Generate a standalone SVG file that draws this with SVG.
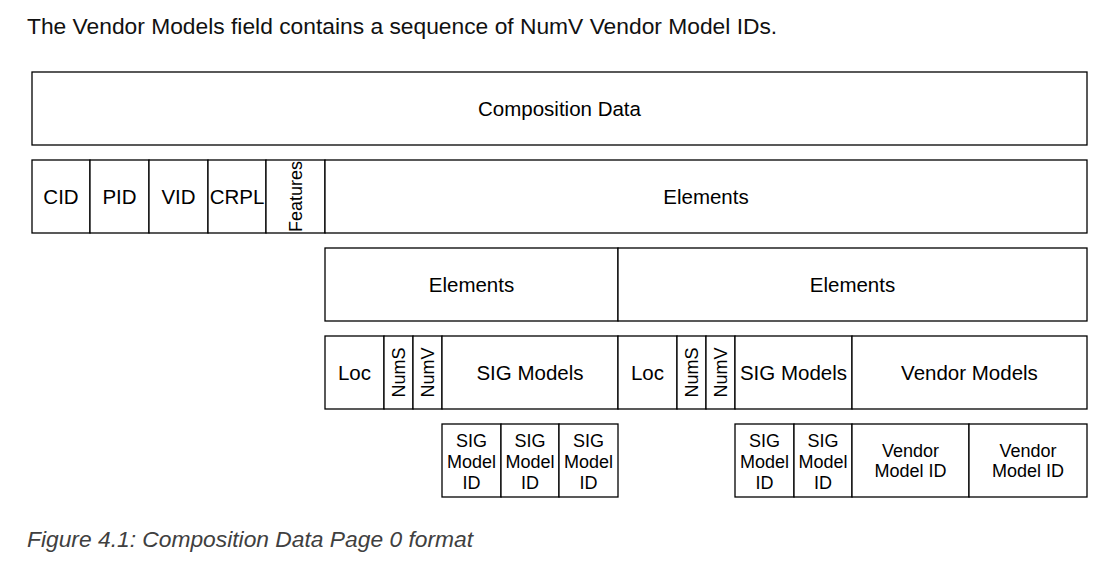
<svg xmlns="http://www.w3.org/2000/svg" width="1115" height="563" viewBox="0 0 1115 563">
<style>
.b{fill:#fff;stroke:#000;stroke-width:1.3}
.t{font-family:"Liberation Sans",Arial,sans-serif;font-size:20.5px;fill:#000;text-anchor:middle}
.r{font-family:"Liberation Sans",Arial,sans-serif;font-size:18px;fill:#000;text-anchor:middle}
.s{font-family:"Liberation Sans",Arial,sans-serif;font-size:18px;fill:#000;text-anchor:middle}
.h{font-family:"Liberation Sans",Arial,sans-serif;font-size:22.8px;fill:#111}
.c{font-family:"Liberation Sans",Arial,sans-serif;font-size:22.8px;font-style:italic;fill:#404040}
</style>
<rect width="1115" height="563" fill="#fff"/>
<text class="h" x="27" y="34">The Vendor Models field contains a sequence of NumV Vendor Model IDs.</text>
<g id="composition-data"><rect class="b" x="32" y="72" width="1055" height="73"/><text class="t" x="559.5" y="116">Composition Data</text></g>
<g id="cid"><rect class="b" x="32" y="160" width="58" height="73"/><text class="t" x="61" y="204">CID</text></g>
<g id="pid"><rect class="b" x="90" y="160" width="59" height="73"/><text class="t" x="119.5" y="204">PID</text></g>
<g id="vid"><rect class="b" x="149" y="160" width="59" height="73"/><text class="t" x="178.5" y="204">VID</text></g>
<g id="crpl"><rect class="b" x="208" y="160" width="58" height="73"/><text class="t" x="237" y="204">CRPL</text></g>
<g id="features"><rect class="b" x="266" y="160" width="59" height="73"/><text class="r" transform="translate(302,196.5) rotate(-90)">Features</text></g>
<g id="elements-top"><rect class="b" x="325" y="160" width="762" height="73"/><text class="t" x="706" y="204">Elements</text></g>
<g id="elements-1"><rect class="b" x="325" y="248" width="293" height="73"/><text class="t" x="471.5" y="292">Elements</text></g>
<g id="elements-2"><rect class="b" x="618" y="248" width="469" height="73"/><text class="t" x="852.5" y="292">Elements</text></g>
<g id="loc-1"><rect class="b" x="325" y="336" width="59" height="73"/><text class="t" x="354.5" y="380">Loc</text></g>
<g id="nums-1"><rect class="b" x="384" y="336" width="29" height="73"/><text class="r" transform="translate(404.5,372.5) rotate(-90)">NumS</text></g>
<g id="numv-1"><rect class="b" x="413" y="336" width="29" height="73"/><text class="r" transform="translate(433.5,372.5) rotate(-90)">NumV</text></g>
<g id="sig-models-1"><rect class="b" x="442" y="336" width="176" height="73"/><text class="t" x="530" y="380">SIG Models</text></g>
<g id="loc-2"><rect class="b" x="618" y="336" width="59" height="73"/><text class="t" x="647.5" y="380">Loc</text></g>
<g id="nums-2"><rect class="b" x="677" y="336" width="29" height="73"/><text class="r" transform="translate(697.5,372.5) rotate(-90)">NumS</text></g>
<g id="numv-2"><rect class="b" x="706" y="336" width="29" height="73"/><text class="r" transform="translate(726.5,372.5) rotate(-90)">NumV</text></g>
<g id="sig-models-2"><rect class="b" x="735" y="336" width="117" height="73"/><text class="t" x="793.5" y="380">SIG Models</text></g>
<g id="vendor-models"><rect class="b" x="852" y="336" width="235" height="73"/><text class="t" x="969.5" y="380">Vendor Models</text></g>
<g id="sig-id-1"><rect class="b" x="442" y="424" width="59" height="73"/><text class="s"><tspan x="471.5" y="447">SIG</tspan><tspan x="471.5" y="468">Model</tspan><tspan x="471.5" y="489">ID</tspan></text></g>
<g id="sig-id-2"><rect class="b" x="501" y="424" width="58" height="73"/><text class="s"><tspan x="530" y="447">SIG</tspan><tspan x="530" y="468">Model</tspan><tspan x="530" y="489">ID</tspan></text></g>
<g id="sig-id-3"><rect class="b" x="559" y="424" width="59" height="73"/><text class="s"><tspan x="588.5" y="447">SIG</tspan><tspan x="588.5" y="468">Model</tspan><tspan x="588.5" y="489">ID</tspan></text></g>
<g id="sig-id-4"><rect class="b" x="735" y="424" width="59" height="73"/><text class="s"><tspan x="764.5" y="447">SIG</tspan><tspan x="764.5" y="468">Model</tspan><tspan x="764.5" y="489">ID</tspan></text></g>
<g id="sig-id-5"><rect class="b" x="794" y="424" width="58" height="73"/><text class="s"><tspan x="823" y="447">SIG</tspan><tspan x="823" y="468">Model</tspan><tspan x="823" y="489">ID</tspan></text></g>
<g id="vendor-id-1"><rect class="b" x="852" y="424" width="117" height="73"/><text class="s"><tspan x="910.5" y="457">Vendor</tspan><tspan x="910.5" y="477">Model ID</tspan></text></g>
<g id="vendor-id-2"><rect class="b" x="969" y="424" width="118" height="73"/><text class="s"><tspan x="1028" y="457">Vendor</tspan><tspan x="1028" y="477">Model ID</tspan></text></g>
<g id="connectors"></g>
<text class="c" x="27" y="547">Figure 4.1: Composition Data Page 0 format</text>
</svg>
